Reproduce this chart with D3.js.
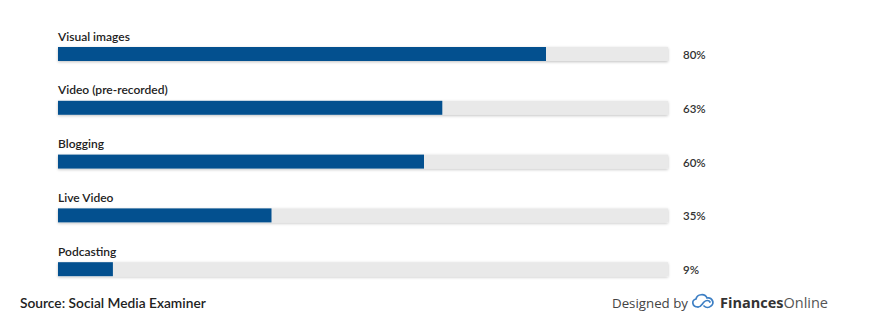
<!DOCTYPE html>
<html><head><meta charset="utf-8">
<script src="https://cdn.jsdelivr.net/npm/d3@7"></script>
<style>
html,body{margin:0;padding:0;background:#fff;}
svg{display:block;}
</style></head>
<body>
<svg id="chart" width="878" height="336"></svg>
<script>
const categories = ["Visual images","Video (pre-recorded)","Blogging","Live Video","Podcasting"];
const values = [80, 63, 60, 35, 9];
const valueLabels = ["80%","63%","60%","35%","9%"];
const sourceText = "Source: Social Media Examiner";

const svg = d3.select("#chart");
const x = d3.scaleLinear().domain([0,100]).range([58,668]);
const y = d3.scaleBand().domain(categories).range([47, 316]).paddingInner(0).paddingOuter(0);
const barH = 14;
const font = "Lato, 'Open Sans', sans-serif";

const defs = svg.append("defs");
const f = defs.append("filter").attr("id","sh").attr("x","-5%").attr("y","-50%").attr("width","110%").attr("height","200%");
f.append("feGaussianBlur").attr("in","SourceAlpha").attr("stdDeviation",1.5);
f.append("feOffset").attr("dx",0).attr("dy",1).attr("result","b");
f.append("feComponentTransfer").append("feFuncA").attr("type","linear").attr("slope",0.25);
const m = f.append("feMerge"); m.append("feMergeNode"); m.append("feMergeNode").attr("in","SourceGraphic");

const g = svg.append("g");
const rows = g.selectAll("g.row").data(categories).join("g").attr("class","row");

rows.append("rect")
  .attr("x", x(0)).attr("y", d => y(d)).attr("width", x(100)-x(0)).attr("height", barH)
  .attr("fill","#e9e9e9").attr("filter","url(#sh)");
rows.append("rect")
  .attr("x", x(0)).attr("y", d => y(d)).attr("width", (d,i) => x(values[i])-x(0)).attr("height", barH)
  .attr("fill","#03508f");
rows.append("text")
  .attr("x", x(0)).attr("y", d => y(d) - 6.5)
  .attr("font-family",font).attr("font-size",12).attr("font-weight",600)
  .attr("fill","#222").text(d => d);
rows.append("text")
  .attr("x", 683).attr("y", d => y(d) + 12)
  .attr("font-family",font).attr("font-size",11.5).attr("font-weight",600)
  .attr("fill","#333").text((d,i) => valueLabels[i]);

svg.append("text").attr("x",20).attr("y",308)
  .attr("font-family",font).attr("font-size",13.75).attr("font-weight",600)
  .attr("fill","#222").text(sourceText);

const cr = svg.append("g");
cr.append("text").attr("x",612).attr("y",308)
  .attr("font-family","'Open Sans', Lato, sans-serif").attr("font-size",13.5)
  .attr("textLength",76).attr("lengthAdjust","spacingAndGlyphs")
  .attr("fill","#444").text("Designed by");
// logo
const lg = cr.append("g").attr("transform","translate(702,302)").attr("fill","none").attr("stroke","#3d7fc4").attr("stroke-width",1.7).attr("stroke-linecap","round");
lg.append("path").attr("d","M-4,5 C-10,5 -11,-2 -6,-3 C-5,-8 3,-9 5,-4 C10,-5 13,1 9,4 C7,6 4,6 2,4");
lg.append("path").attr("d","M-4,5 C-1,5 0,2 2,0 C4,-2 7,-2 8,0");
cr.append("text").attr("x",720).attr("y",308)
  .attr("font-family","'Open Sans', Lato, sans-serif").attr("font-size",14.5).attr("font-weight",700)
  .attr("textLength",108).attr("lengthAdjust","spacingAndGlyphs")
  .attr("fill","#333").text("Finances")
  .append("tspan").attr("font-weight",400).attr("fill","#555").text("Online");
</script>
</body></html>
